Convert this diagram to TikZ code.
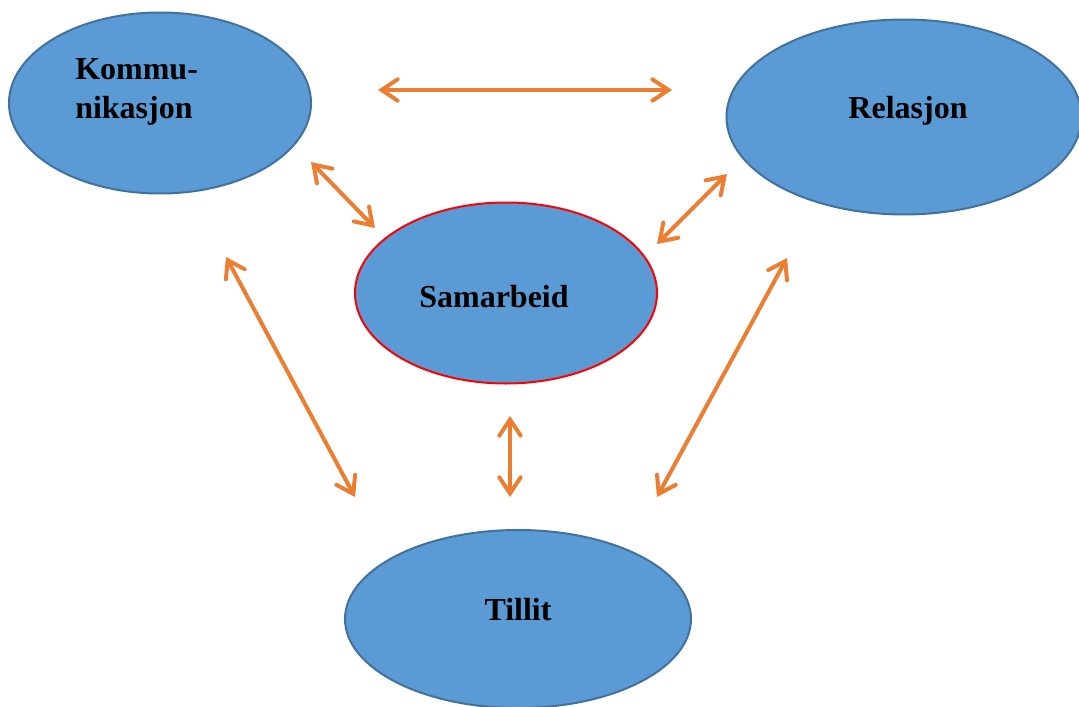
\documentclass[tikz,border=0pt]{standalone}
\usepackage{fontspec}
\setmainfont{Liberation Serif}
\usetikzlibrary{arrows.meta,shapes.geometric}
\definecolor{fillblue}{HTML}{5B9BD5}
\definecolor{edgeblue}{HTML}{41719C}
\definecolor{arrorange}{HTML}{ED7D31}
\tikzset{
  bubble/.style={ellipse, fill=fillblue, draw=edgeblue, line width=1.5pt, inner sep=0pt},
  lbl/.style={font=\fontsize{24}{29}\selectfont\bfseries, inner sep=0pt, text=black},
  link/.style={draw=arrorange, line width=3pt, line cap=round,
    {Straight Barb[length=12pt,width=16pt,line cap=round]}-{Straight Barb[length=12pt,width=16pt,line cap=round]}}
}
\begin{document}
\begin{tikzpicture}[x=0.75pt,y=-0.75pt]
\useasboundingbox (0,0) rectangle (1079,707);
\begin{scope}
\clip (0,0) rectangle (1079,707);
\node[bubble, minimum width=302*0.75pt, minimum height=181*0.75pt] (kom) at (160,103) {};
\node[bubble, minimum width=355*0.75pt, minimum height=195*0.75pt] (rel) at (904,117) {};
\node[bubble, draw=red, minimum width=302*0.75pt, minimum height=181*0.75pt] (sam) at (506,293) {};
\node[bubble, minimum width=346*0.75pt, minimum height=178*0.75pt] (til) at (518,619) {};
\end{scope}
\node[lbl, anchor=base west, align=left] (komt) at (75,118) {Kommu-\\nikasjon};
\node[lbl, anchor=base] (relt) at (908,118) {Relasjon};
\node[lbl, anchor=base] (samt) at (494,307) {Samarbeid};
\node[lbl, anchor=base] (tilt) at (518,620) {Tillit};
\coordinate (a1) at (378,90);  \coordinate (b1) at (672,90);
\coordinate (a2) at (311,162); \coordinate (b2) at (375,228);
\coordinate (a3) at (727,174); \coordinate (b3) at (657,244);
\coordinate (a4) at (226,257); \coordinate (b4) at (355,497);
\coordinate (a5) at (510,416); \coordinate (b5) at (510,497);
\coordinate (a6) at (787,258); \coordinate (b6) at (657,497);
\draw[link] (a1) -- (b1);
\draw[link] (a2) -- (b2);
\draw[link] (a3) -- (b3);
\draw[link] (a4) -- (b4);
\draw[link] (a5) -- (b5);
\draw[link] (a6) -- (b6);
\end{tikzpicture}
\end{document}
